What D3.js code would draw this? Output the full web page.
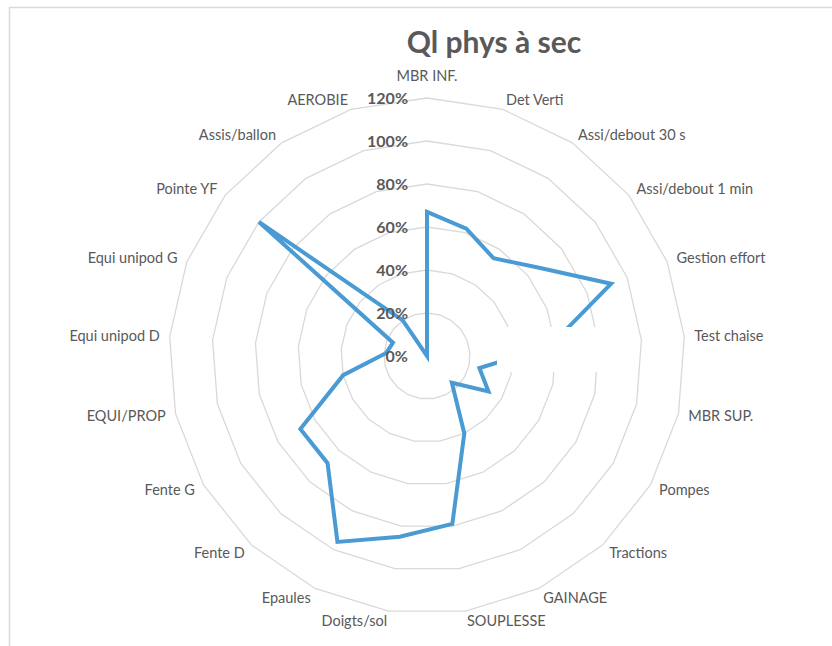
<!DOCTYPE html>
<html>
<head>
<meta charset="utf-8">
<script src="https://d3js.org/d3.v7.min.js"></script>
<style>
  body { margin: 0; background: white; }
  svg text { font-family: Lato, "Open Sans", sans-serif; fill: #595959; }
</style>
</head>
<body>
<svg id="chart"></svg>
<script>
// chart data
const categories = ["MBR INF.", "Det Verti", "Assi/debout 30 s", "Assi/debout 1 min",
  "Gestion effort", "Test chaise", "MBR SUP.", "Pompes", "Tractions", "GAINAGE",
  "SOUPLESSE", "Doigts/sol", "Epaules", "Fente D", "Fente G", "EQUI/PROP",
  "Equi unipod D", "Equi unipod G", "Pointe YF", "Assis/ballon", "AEROBIE"];
const values = [0.67, 0.62, 0.55, 0.66, 0.92, 0.57, 0.25, 0.33, 0.17, 0.40,
  0.79, 0.85, 0.96, 0.68, 0.68, 0.40, 0.19, 0.17, 1.00, 0.20, 0.00];
const ticks = [0, 0.2, 0.4, 0.6, 0.8, 1.0, 1.2];

const width = 832, height = 646;
const cx = 427, cy = 356;
const rMax = 258;

const svg = d3.select("#chart").attr("width", width).attr("height", height);

// frame of the chart area (cropped on right/bottom)
svg.append("path")
  .attr("d", `M9.5,${height} V7.5 H${width}`)
  .attr("fill", "none").attr("stroke", "#d9d9d9").attr("stroke-width", 1.5);

// title
svg.append("text")
  .attr("x", 494).attr("y", 53)
  .attr("text-anchor", "middle")
  .style("font-size", "30px").style("font-weight", "bold")
  .text("Ql phys à sec");

const r = d3.scaleLinear().domain([0, 1.2]).range([0, rMax]);
const angle = d3.scaleLinear().domain([0, categories.length]).range([0, 2 * Math.PI]);

const g = svg.append("g").attr("transform", `translate(${cx},${cy})`);

// grid rings
const ring = d3.lineRadial().curve(d3.curveLinearClosed);
g.selectAll(".ring").data(ticks.filter(d => d > 0)).enter().append("path")
  .attr("class", "ring")
  .attr("d", t => ring(categories.map((c, i) => [angle(i), r(t)])))
  .attr("fill", "none").attr("stroke", "#d9d9d9").attr("stroke-width", 1.3);

// series line
const line = d3.lineRadial()
  .angle((d, i) => angle(i))
  .radius(d => r(d))
  .curve(d3.curveLinearClosed);
g.append("path")
  .datum(values)
  .attr("d", line)
  .attr("fill", "none").attr("stroke", "#4a9bd3")
  .attr("stroke-width", 4).attr("stroke-linejoin", "miter");

// white box hiding part of the plot (as in the source picture)
svg.append("rect")
  .attr("x", 497).attr("y", 327).attr("width", 105).attr("height", 45)
  .attr("fill", "white");

// tick labels
g.selectAll(".tick").data(ticks).enter().append("text")
  .attr("x", -19).attr("y", t => -r(t))
  .attr("dy", "0.35em")
  .attr("text-anchor", "end")
  .style("font-size", "16px").style("font-weight", "bold")
  .text(d3.format(".0%"));

// category labels
const lr = 268;
g.selectAll(".cat").data(categories).enter().append("text")
  .each(function (c, i) {
    const a = angle(i);
    const s = Math.sin(a), co = Math.cos(a);
    const t = d3.select(this);
    t.attr("x", lr * s).attr("y", -lr * co).attr("dy", "0.35em");
    if (Math.abs(s) < 0.1) {
      t.attr("text-anchor", "middle").attr("y", -lr * co - (co > 0 ? 12 : -12));
    } else {
      t.attr("text-anchor", s > 0 ? "start" : "end");
    }
  })
  .style("font-size", "14.5px")
  .text(c => c);
</script>
</body>
</html>
